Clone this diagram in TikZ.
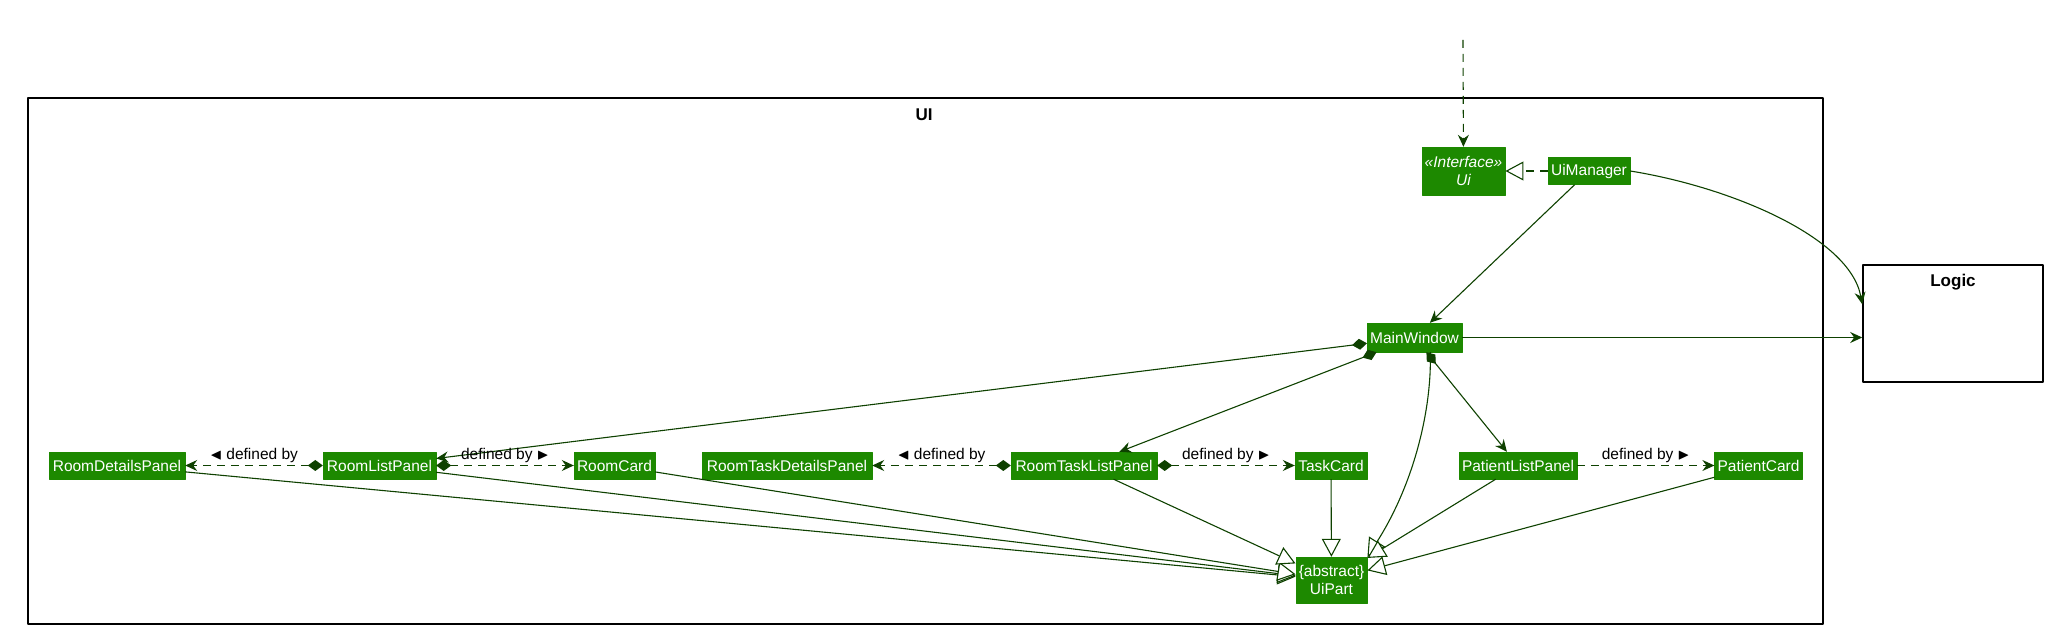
\documentclass[tikz,border=0pt]{standalone}
\usepackage{amssymb}
\usepackage{fontspec}
\setmainfont{Liberation Sans}
\usepackage{tikz}
\usetikzlibrary{arrows.meta}
\definecolor{uiColor}{HTML}{1D8900}
\definecolor{uiArrow}{HTML}{0E4100}
\newcommand{\uifont}{\fontsize{15.5bp}{18bp}\selectfont}
\newcommand{\pkgfont}{\fontsize{17bp}{20bp}\selectfont\bfseries}

\begin{document}
\begin{tikzpicture}[>={Stealth[length=12bp,width=11bp,inset=4bp]},line join=bevel,
  uiclass/.style={fill=uiColor,draw=uiColor,text=white,font=\uifont,inner xsep=3bp,inner ysep=2bp,minimum height=27bp,align=center},
  pkg/.style={draw=black,line width=1.6bp,inner sep=0pt},
  conn/.style={uiArrow,line width=1.1bp},
  ext/.style={conn,-{Triangle[length=18bp,width=19bp,fill=white]}},
  assoc/.style={conn,->},
  comp/.style={conn,{Diamond[length=15bp,width=11bp]}->},
  defby/.style={dash pattern=on 8bp off 6bp},
  lbl/.style={font=\uifont,text=black,anchor=base,yshift=6bp,inner sep=0pt},
]
\useasboundingbox (0bp,0bp) rectangle (2055bp,637bp);
%%
\node (UI) at (925.5bp,276bp) [pkg,minimum width=1795bp,minimum height=526bp] {};
  \node (UI_title) at (924bp,522bp) [font=\pkgfont] {UI};
  \node (Logic) at (1953bp,313.5bp) [pkg,minimum width=180bp,minimum height=117bp] {};
  \node (Logic_title) at (1953bp,355bp) [font=\pkgfont] {Logic};
  \node (Ui) at (1463.5bp,466bp) [uiclass,minimum width=79bp,minimum height=48bp,font=\uifont\itshape] {«Interface»\\Ui};
  \node (UiManager) at (1589bp,466bp) [uiclass,minimum width=82bp] {UiManager};
  \node (MainWindow) at (1414.5bp,299.5bp) [uiclass,minimum width=93bp,minimum height=29bp] {MainWindow};
  \node (RoomDetailsPanel) at (117bp,171.5bp) [uiclass,minimum width=136bp] {RoomDetailsPanel};
  \node (RoomListPanel) at (379.5bp,171.5bp) [uiclass,minimum width=113bp] {RoomListPanel};
  \node (RoomCard) at (614.5bp,171.5bp) [uiclass,minimum width=81bp] {RoomCard};
  \node (RoomTaskDetailsPanel) at (787bp,171.5bp) [uiclass,minimum width=170bp] {RoomTaskDetailsPanel};
  \node (RoomTaskListPanel) at (1084bp,171.5bp) [uiclass,minimum width=146bp] {RoomTaskListPanel};
  \node (TaskCard) at (1331bp,171.5bp) [uiclass,minimum width=72bp] {TaskCard};
  \node (PatientListPanel) at (1518bp,171.5bp) [uiclass,minimum width=118bp] {PatientListPanel};
  \node (PatientCard) at (1758.5bp,171.5bp) [uiclass,minimum width=87bp] {PatientCard};
  \node (UiPart) at (1331.5bp,57bp) [uiclass,minimum width=71bp,minimum height=46bp] {\{abstract\}\\UiPart};
  \coordinate (UiCaller) at (1463bp,597bp);
%%
  \draw [assoc,defby] (UiCaller) -- (Ui);
  \draw [ext,defby] (UiManager) -- (Ui);
  \draw [assoc] (UiManager) -- (MainWindow);
  \draw [assoc] (UiManager.east) ..controls (1730bp,450bp) and (1850bp,400bp) .. (Logic.168);
  \draw [assoc] (MainWindow.east) -- (MainWindow.east -| Logic.west);
  \draw [comp] (MainWindow) -- (RoomListPanel);
  \draw [comp] (MainWindow) -- (RoomTaskListPanel);
  \draw [comp] (MainWindow) -- (PatientListPanel);
  \draw [ext] (MainWindow.-43) ..controls (1432bp,230bp) and (1415bp,155bp) .. (UiPart.north east);
  \draw [comp,defby] (RoomListPanel) -- node [lbl] {$\blacktriangleleft$ defined by} (RoomDetailsPanel);
  \draw [comp,defby] (RoomListPanel) -- node [lbl] {defined by $\blacktriangleright$} (RoomCard);
  \draw [comp,defby] (RoomTaskListPanel) -- node [lbl] {$\blacktriangleleft$ defined by} (RoomTaskDetailsPanel);
  \draw [comp,defby] (RoomTaskListPanel) -- node [lbl] {defined by $\blacktriangleright$} (TaskCard);
  \draw [assoc,defby] (PatientListPanel) -- node [lbl] {defined by $\blacktriangleright$} (PatientCard);
  \draw [ext] (RoomDetailsPanel) -- (UiPart);
  \draw [ext] (RoomListPanel) -- (UiPart);
  \draw [ext] (RoomCard) -- (UiPart);
  \draw [ext] (RoomTaskListPanel) -- (UiPart);
  \draw [ext] (TaskCard) -- (UiPart);
  \draw [ext] (PatientListPanel) -- (UiPart);
  \draw [ext] (PatientCard) -- (UiPart);
%
\end{tikzpicture}
\end{document}
